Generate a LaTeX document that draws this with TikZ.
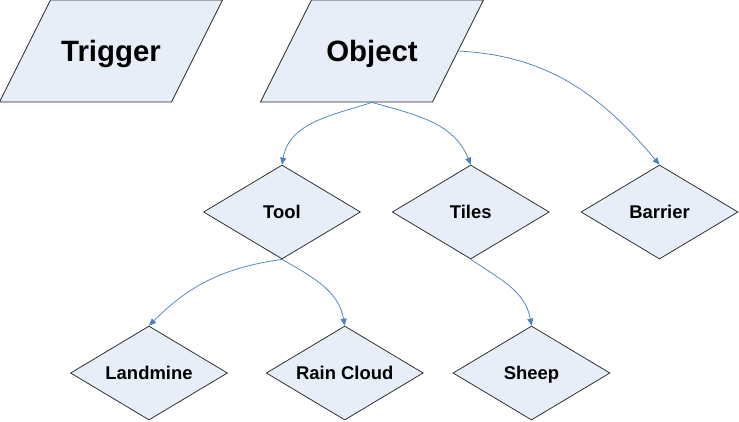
\documentclass[tikz,border=0pt]{standalone}
\usepackage{fontspec}
\setmainfont{Liberation Sans}
\usetikzlibrary{positioning,arrows.meta,shapes.geometric}

\definecolor{linkblue}{RGB}{79,129,189}
\definecolor{shapefill}{RGB}{232,238,248}

\begin{document}
\begin{tikzpicture}[x=1bp, y=1bp,
    groupnode/.style={trapezium, trapezium left angle=63.43, trapezium right angle=116.57,
        trapezium stretches body, draw=black!85, fill=shapefill, line width=0.75pt,
        minimum width=223bp, text height=21bp, text depth=0bp,
        inner xsep=0pt, inner ysep=40.5bp,
        font=\fontsize{29.5}{32}\selectfont\bfseries},
    kindnode/.style={diamond, aspect=1.67, draw=black!85, fill=shapefill, line width=0.75pt,
        minimum width=157bp, minimum height=94bp, inner sep=0pt,
        text height=13bp, text depth=0bp,
        font=\fontsize{18.5}{20}\selectfont\bfseries},
    link/.style={-{Triangle[length=7bp,width=6bp]}, draw=linkblue, line width=0.75pt}
    ]
        \useasboundingbox (0,0) rectangle (739,421);

        %Nodes
        \node[groupnode]
            (trigger)   at (111,370)            {Trigger};
        \node[groupnode]
            (object)    at (372,370)            {Object};
        \node[kindnode]
            (tool)      at (282,209)            {Tool};
        \node[kindnode]
            (tiles)     [right=31bp of tool]    {Tiles};
        \node[kindnode]
            (barrier)   [right=31bp of tiles]   {Barrier};
        \node[kindnode]
            (landmine)  at (149,48)             {Landmine};
        \node[kindnode]
            (raincloud) [right=38bp of landmine] {Rain Cloud};
        \node[kindnode]
            (sheep)     [right=29bp of raincloud] {Sheep};

        %Lines
        \draw[link]
            (object.center |- object.south) to[out=198, in=80] (tool.north);
        \draw[link]
            (object.center |- object.south) to[out=-16, in=112] (tiles.north);
        \draw[link]
            (object.east) to[out=-3, in=130] (barrier.north);
        \draw[link]
            (tool.south) to[out=188, in=45] (landmine.north);
        \draw[link]
            (tool.south) to[out=-30, in=100] (raincloud.north);
        \draw[link]
            (tiles.south) to[out=-34, in=100] (sheep.north);
\end{tikzpicture}
\end{document}
